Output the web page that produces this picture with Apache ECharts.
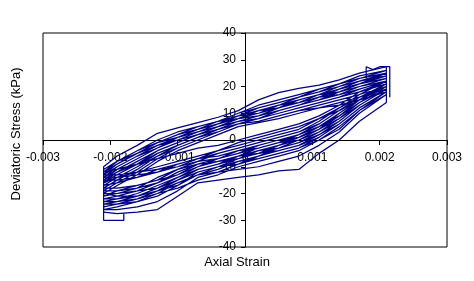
<!DOCTYPE html>
<html>
<head>
<meta charset="utf-8">
<script src="https://cdn.jsdelivr.net/npm/echarts@6/dist/echarts.min.js"></script>
<style>
html,body{margin:0;padding:0;background:#fff;}
#chart{width:474px;height:281px;}
</style>
</head>
<body>
<div id="chart"></div>
<script>
// Strain positions of the read points on each branch
const strainLoading = [-0.0021, -0.0019, -0.0016, -0.0013, -0.001, -0.0007, -0.0004, -0.0001, 0.0002, 0.0005, 0.0008, 0.0011, 0.0014, 0.0017, 0.0021];
const strainUnloading = [0.0021, 0.0017, 0.0014, 0.0011, 0.0008, 0.0005, 0.0002, -0.0001, -0.0004, -0.0007, -0.001, -0.0013, -0.0016, -0.0019, -0.0021];

// Deviatoric stress (kPa) read for each cycle, loading branch (left -> right)
const loadingStress = [
  [-27, -27.5, -27, -26, -21, -16, -15, -14, -13, -11.5, -11, -5, 0, 7, 14],
  [-12, -11, -9, -7, -5, -3, -2, 0, 2, 4, 6, 9, 13, 18, 22],
  [-20, -20, -19, -16, -12, -9, -7, -5, -3, -1, 1, 5, 10, 15, 20],
  [-24, -24, -23, -21, -17, -12, -10, -9, -7, -5, -3, 1, 6, 12, 18],
  [-15, -15, -14, -12, -9, -7, -5, -3, -1, 1, 3, 6, 11, 16, 21],
  [-22, -22, -20, -17, -14, -11, -9, -6, -5, -3, 0, 3, 8, 14, 19],
  [-26, -26, -25, -23, -19, -14, -12, -11, -10, -8, -6, -2, 3, 10, 17],
  [-17, -16, -14, -11, -9, -7, -6, -4, -2, 0, 2, 5, 9, 15, 21],
  [-21, -19, -17, -15, -13, -10, -7, -4, -3, -1, 2, 6, 11, 16, 20],
  [-25, -24, -22, -20, -16, -13, -11, -8, -6, -4, -2, 2, 7, 13, 19],
  [-13, -13, -12, -10, -8, -6, -4, -2, 0, 2, 4, 8, 12, 17, 22],
  [-23, -23, -22, -19, -15, -12, -10, -8, -7, -5, -3, 0, 4, 11, 18],
  [-18, -18, -17, -15, -11, -8, -7, -5, -2, 0, 1, 4, 9, 14, 20],
  [-20, -21, -21, -18, -14, -10, -8, -7, -5, -2, 0, 3, 7, 13, 19],
  [-26, -25, -23, -20, -18, -15, -13, -10, -8, -6, -4, 0, 5, 11, 17],
  [-16, -14, -12, -11, -10, -8, -5, -3, -1, 1, 3, 7, 12, 16, 21],
  [-22, -21, -19, -18, -15, -11, -9, -7, -4, -2, 1, 4, 8, 13, 19],
  [-19, -19, -18, -16, -13, -9, -8, -6, -4, -3, -1, 2, 6, 12, 18],
  [-24, -23, -21, -19, -16, -13, -12, -9, -6, -3, -1, 3, 8, 14, 20],
  [-14, -14, -13, -12, -10, -7, -4, -1, 1, 3, 5, 8, 11, 15, 20],
  [-21, -20, -18, -14, -11, -9, -8, -6, -3, -1, 0, 4, 10, 15, 21],
  [-23, -22, -21, -19, -17, -13, -10, -7, -5, -4, -2, 1, 6, 12, 18]
];

// Deviatoric stress (kPa) read for each cycle, unloading branch (right -> left)
const unloadingStress = [
  [27.4, 25, 22.5, 20.5, 19.3, 17.7, 15, 11, 8.5, 6.5, 4.5, 2.5, -2, -6, -10],
  [18, 15, 13, 12, 10, 8, 6.5, 5, 2, -1, -4, -8, -13, -17, -20],
  [24, 21, 18, 16, 14, 12, 10, 8, 5, 3, 0, -3, -7, -11, -14],
  [22, 19, 16, 14, 12, 10, 8, 6, 4, 1, -2, -5, -10, -14, -17],
  [26, 23, 20, 18, 16, 14, 12, 9, 7, 5, 2, -1, -5, -8, -12],
  [23, 20, 18, 15, 13, 11, 9, 7, 5, 2, -1, -4, -8, -12, -15],
  [25, 22, 19, 17, 15, 12, 11, 9, 6, 4, 1, -2, -6, -10, -13],
  [20, 17, 15, 13, 11, 9, 7, 6, 3, 0, -3, -6, -11, -15, -18],
  [25, 23, 21, 18, 16, 13, 11, 8, 6, 3, 1, -2, -5, -9, -12],
  [22, 20, 17, 16, 14, 12, 9, 7, 4, 2, -1, -4, -9, -13, -16],
  [26, 24, 21, 19, 17, 15, 13, 10, 7, 5, 3, 0, -4, -8, -11],
  [21, 18, 16, 14, 12, 10, 8, 6, 3, 1, -2, -6, -10, -14, -17],
  [24, 22, 19, 17, 14, 13, 11, 8, 6, 4, 1, -3, -6, -10, -13],
  [23, 21, 19, 16, 13, 11, 9, 8, 5, 2, 0, -3, -7, -11, -15],
  [25, 21, 18, 17, 15, 13, 10, 8, 7, 4, 1, -1, -5, -9, -13],
  [19, 16, 14, 12, 11, 9, 7, 6, 3, 0, -3, -7, -12, -16, -19],
  [24, 22, 20, 17, 15, 12, 10, 9, 6, 3, 0, -2, -6, -10, -14],
  [22, 19, 17, 15, 13, 11, 8, 7, 4, 1, -2, -5, -9, -12, -16],
  [26, 23, 21, 19, 16, 14, 12, 10, 7, 4, 2, -1, -4, -8, -12],
  [23, 20, 17, 15, 13, 11, 9, 7, 4, 2, -1, -4, -8, -12, -15],
  [25, 22, 20, 17, 15, 13, 11, 9, 6, 3, 1, -2, -6, -10, -13],
  [21, 18, 16, 14, 12, 10, 8, 6, 4, 1, -2, -5, -9, -13, -16]
];

// Small rectangular excursions at the strain reversals
const reversalLow = [[-0.0021, -24], [-0.0021, -30], [-0.0018, -30], [-0.0018, -27.5]];
const reversalHigh = [[0.0018, 23], [0.0018, 27.4], [0.0019, 26.3], [0.002, 27.4], [0.00215, 27.4], [0.00215, 16]];

const xTicks = [-0.003, -0.002, -0.001, 0, 0.001, 0.002, 0.003];

const pathData = [];
for (let c = 0; c < loadingStress.length; c++) {
  for (let i = 0; i < strainLoading.length; i++) pathData.push([strainLoading[i], loadingStress[c][i]]);
  for (let i = 0; i < strainUnloading.length; i++) pathData.push([strainUnloading[i], unloadingStress[c][i]]);
}

const chart = echarts.init(document.getElementById('chart'), null, {renderer: 'canvas'});
const font = '"Liberation Sans", Arial, sans-serif';
const lineStyle = {color: '#000080', width: 1.25};
chart.setOption({
  animation: false,
  backgroundColor: '#ffffff',
  grid: {left: 43, top: 33, width: 404, height: 214, show: true, borderColor: '#000', borderWidth: 1, backgroundColor: 'transparent'},
  xAxis: {
    type: 'value', min: -0.003, max: 0.003, interval: 0.001,
    offset: -107,
    axisLine: {onZero: false, lineStyle: {color: '#000', width: 1}},
    axisTick: {show: true, length: 5, lineStyle: {color: '#000'}},
    splitLine: {show: false},
    axisLabel: {
      color: '#000', fontFamily: font, fontSize: 12, margin: 12,
      formatter: function (v) {
        const r = Math.round(v * 1000);
        const t = xTicks.find(function (k) { return Math.round(k * 1000) === r; });
        return String(t);
      }
    }
  },
  yAxis: {
    type: 'value', min: -40, max: 40, interval: 10,
    offset: -202,
    axisLine: {onZero: false, lineStyle: {color: '#000', width: 1}},
    axisTick: {show: true, length: 4, lineStyle: {color: '#000'}},
    splitLine: {show: false},
    axisLabel: {color: '#000', fontFamily: font, fontSize: 12, margin: 9}
  },
  graphic: [
    {type: 'text', left: 'center', top: 256, style: {text: 'Axial Strain', font: '13px ' + font, fill: '#000'}},
    {type: 'text', x: 16, y: 134, rotation: Math.PI / 2, style: {text: 'Deviatoric Stress (kPa)', font: '13px ' + font, fill: '#000', align: 'center', verticalAlign: 'middle'}}
  ],
  series: [
    {type: 'line', data: pathData, showSymbol: false, symbol: 'none', lineStyle: lineStyle, z: 3},
    {type: 'line', data: reversalLow, showSymbol: false, symbol: 'none', lineStyle: lineStyle, z: 3},
    {type: 'line', data: reversalHigh, showSymbol: false, symbol: 'none', lineStyle: lineStyle, z: 3}
  ]
});
</script>
</body>
</html>
